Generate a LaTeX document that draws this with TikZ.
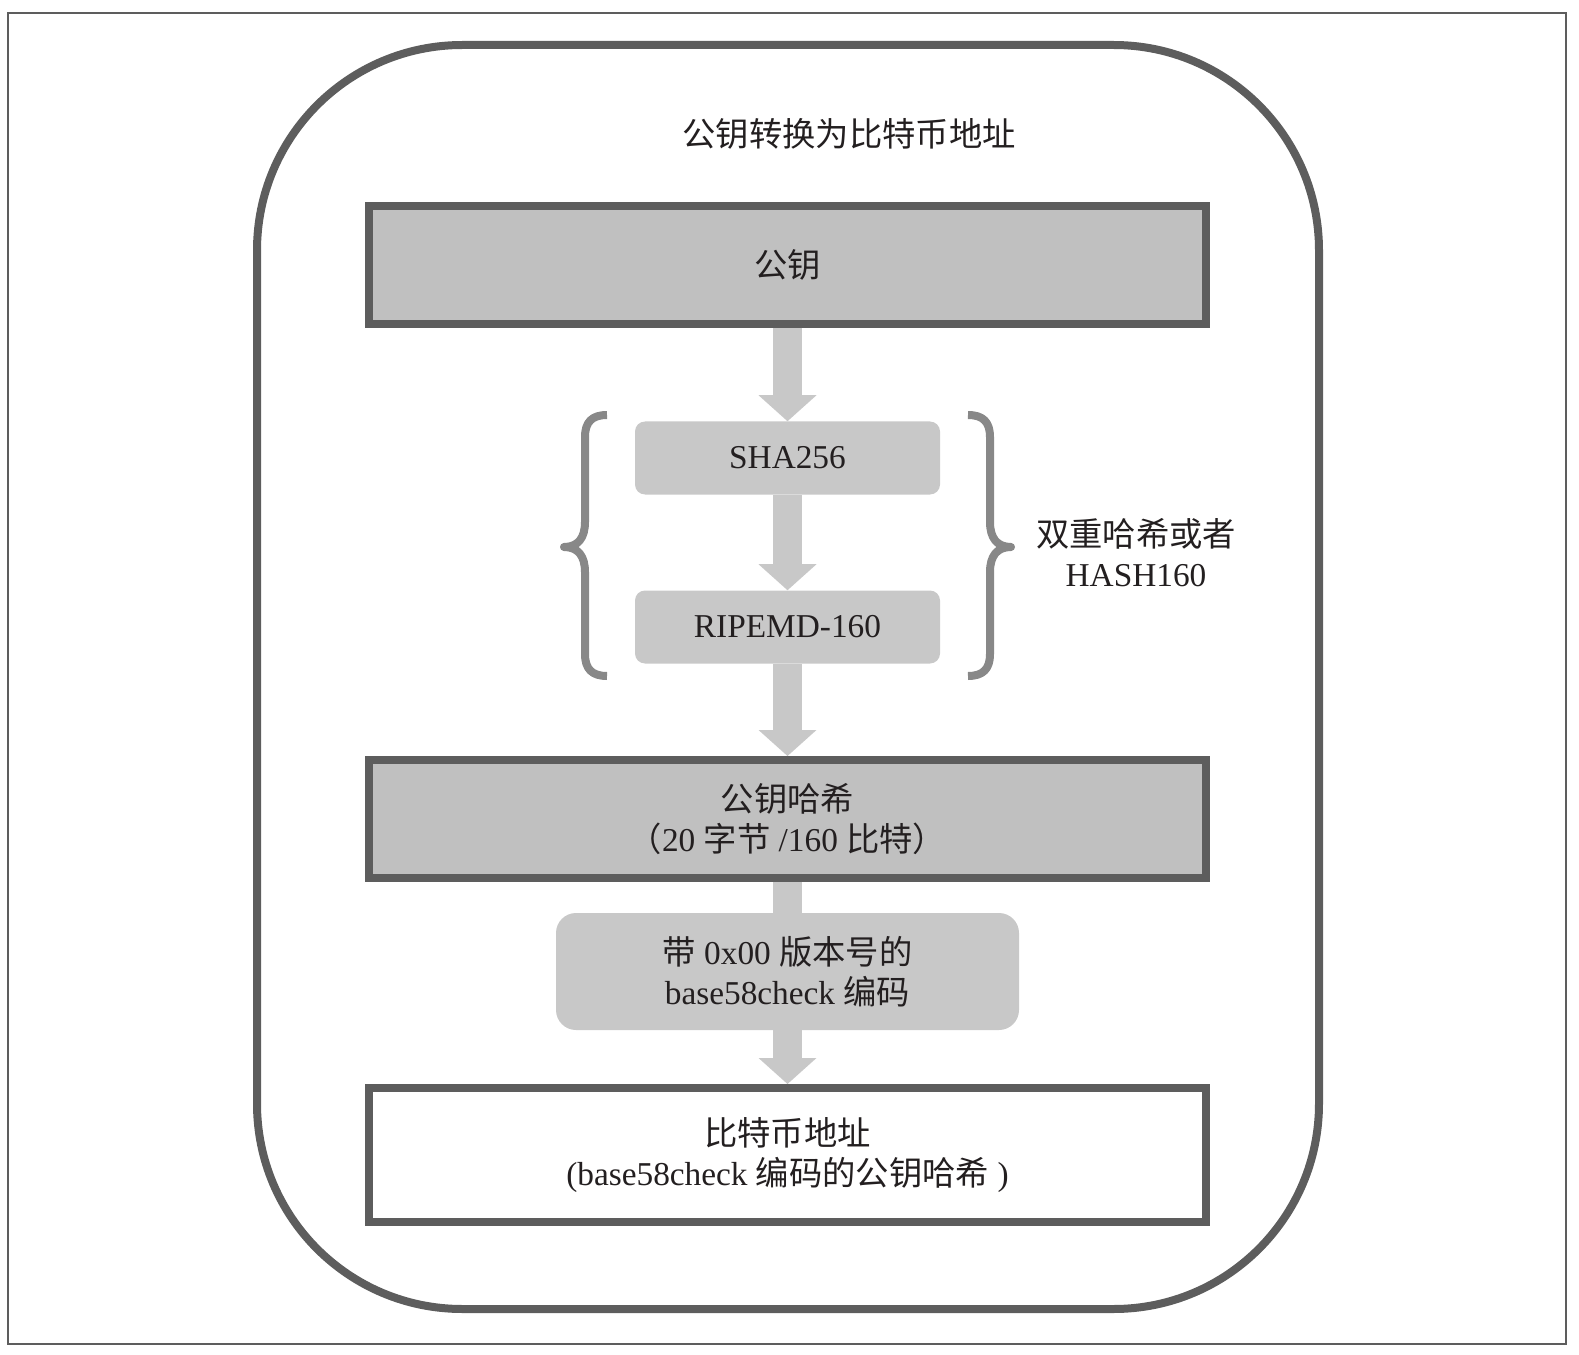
\documentclass[tikz,border=0pt]{standalone}
\usepackage{fontspec}
\setmainfont{Liberation Serif}
\newfontfamily\cjk{Noto Sans CJK SC}
\usepackage{tikz}
\usetikzlibrary{arrows.meta}

\definecolor{edgegray}{RGB}{93,93,93}
\definecolor{keyfill}{RGB}{192,192,192}
\definecolor{stepfill}{RGB}{200,200,200}
\definecolor{bracegray}{RGB}{136,136,136}
\definecolor{inkblack}{RGB}{35,31,32}

\tikzset{
  keybox/.style={rectangle, draw=edgegray, line width=6pt, fill=keyfill,
    minimum width=627.75pt, minimum height=88.5pt, align=center,
    text=inkblack, font=\fontsize{25}{30}\selectfont},
  hashstep/.style={rectangle, rounded corners=7.5pt, fill=stepfill,
    minimum width=228.75pt, minimum height=54.75pt, align=center,
    text=inkblack, font=\fontsize{25}{30}\selectfont},
  flow/.style={draw=stepfill, line width=21.75pt,
    -{Triangle[length=19.5pt,width=43.5pt,line width=0pt]}},
  shaft/.style={draw=stepfill, line width=21.75pt},
  bracket/.style={draw=bracegray, line width=6pt, line join=round},
}

\begin{document}
\begin{tikzpicture}[x=0.75pt,y=0.75pt,yscale=-1,xscale=1]
  \useasboundingbox (0,0) rectangle (1579,1355);
  % outer frame and rounded panel
  \draw[edgegray, line width=0.8pt] (8,13) rectangle (1566,1344);
  \draw[edgegray, line width=6pt, rounded corners=154pt] (257,45) rectangle (1319,1309);

  \node[text=inkblack, font=\fontsize{25}{30}\selectfont] (title) at (849,134) {\cjk 公钥转换为比特币地址};

  % steps
  \node[keybox] (pubkey) at (787.5,265) {\cjk 公钥};
  \node[hashstep] (sha) at (787.5,458) {SHA256};
  \node[hashstep] (ripemd) at (787.5,627) {RIPEMD-160};
  \node[keybox] (keyhash) at (787.5,819) {{\cjk 公钥哈希}\\{\cjk （}20 {\cjk 字节} /160 {\cjk 比特）}};
  \node[hashstep, rounded corners=15pt, minimum width=347.25pt, minimum height=87.75pt] (encode) at (787.5,971.5)
    {{\cjk 带} 0x00 {\cjk 版本号的}\\base58check {\cjk 编码}};
  \node[keybox, fill=white, minimum height=100.5pt] (address) at (787.5,1155)
    {{\cjk 比特币地址}\\(base58check {\cjk 编码的公钥哈希} )};

  % arrows
  \draw[flow] (pubkey.south) -- (sha.north);
  \draw[flow] (sha.south) -- (ripemd.north);
  \draw[flow] (ripemd.south) -- (keyhash.north);
  \draw[shaft] (keyhash.south) -- (encode.north);
  \draw[flow] (encode.south) -- (address.north);

  % braces round the two hashes
  \draw[bracket] (607,415) .. controls (592,415) and (585,422) .. (585,437) -- (585,522)
    .. controls (585,538) and (578,547) .. (564,547) .. controls (578,547) and (585,556) .. (585,572)
    -- (585,654) .. controls (585,669) and (592,676) .. (607,676);
  \draw[bracket] (968,415) .. controls (983,415) and (990,422) .. (990,437) -- (990,522)
    .. controls (990,538) and (997,547) .. (1011,547) .. controls (997,547) and (990,556) .. (990,572)
    -- (990,654) .. controls (990,669) and (983,676) .. (968,676);
  \node[text=inkblack, align=center, font=\fontsize{25}{30}\selectfont] (dblhash) at (1136,553)
    {{\cjk 双重哈希或者}\\HASH160};
\end{tikzpicture}
\end{document}
